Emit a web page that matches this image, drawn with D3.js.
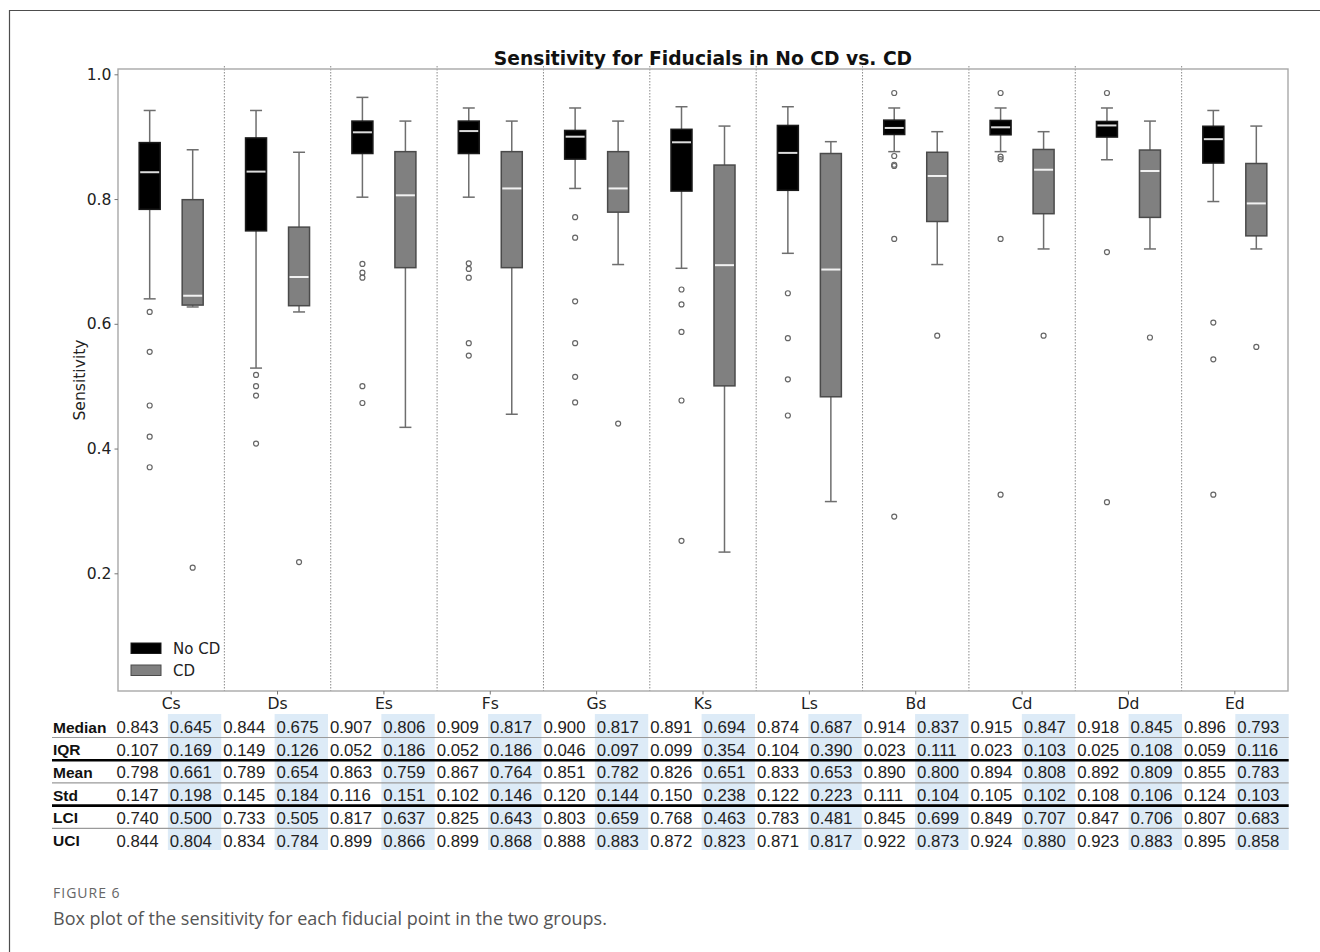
<!DOCTYPE html>
<html>
<head>
<meta charset="utf-8">
<script src="https://cdn.jsdelivr.net/npm/d3@7"></script>
<style>
  html, body { margin: 0; padding: 0; background: #fff; }
  svg { display: block; }
</style>
</head>
<body>
<svg id="fig" width="1320" height="952"></svg>
<script>
// Fiducial points and groups
const categories = ["Cs", "Ds", "Es", "Fs", "Gs", "Ks", "Ls", "Bd", "Cd", "Dd", "Ed"];
const groups = ["No CD", "CD"];

// Summary statistics (table rows)
const medianNoCD = [0.843, 0.844, 0.907, 0.909, 0.900, 0.891, 0.874, 0.914, 0.915, 0.918, 0.896];
const medianCD   = [0.645, 0.675, 0.806, 0.817, 0.817, 0.694, 0.687, 0.837, 0.847, 0.845, 0.793];
const iqrNoCD    = [0.107, 0.149, 0.052, 0.052, 0.046, 0.099, 0.104, 0.023, 0.023, 0.025, 0.059];
const iqrCD      = [0.169, 0.126, 0.186, 0.186, 0.097, 0.354, 0.390, 0.111, 0.103, 0.108, 0.116];
const meanNoCD   = [0.798, 0.789, 0.863, 0.867, 0.851, 0.826, 0.833, 0.890, 0.894, 0.892, 0.855];
const meanCD     = [0.661, 0.654, 0.759, 0.764, 0.782, 0.651, 0.653, 0.800, 0.808, 0.809, 0.783];
const stdNoCD    = [0.147, 0.145, 0.116, 0.102, 0.120, 0.150, 0.122, 0.111, 0.105, 0.108, 0.124];
const stdCD      = [0.198, 0.184, 0.151, 0.146, 0.144, 0.238, 0.223, 0.104, 0.102, 0.106, 0.103];
const lciNoCD    = [0.740, 0.733, 0.817, 0.825, 0.803, 0.768, 0.783, 0.845, 0.849, 0.847, 0.807];
const lciCD      = [0.500, 0.505, 0.637, 0.643, 0.659, 0.463, 0.481, 0.699, 0.707, 0.706, 0.683];
const uciNoCD    = [0.844, 0.834, 0.899, 0.899, 0.888, 0.872, 0.871, 0.922, 0.924, 0.923, 0.895];
const uciCD      = [0.804, 0.784, 0.866, 0.868, 0.883, 0.823, 0.817, 0.873, 0.880, 0.883, 0.858];

// Box-plot geometry values: lower quartile, whisker ends, outliers
const q1NoCD     = [0.7835, 0.749, 0.873, 0.873, 0.864, 0.8128, 0.814, 0.9035, 0.903, 0.8994, 0.8577];
const q1CD       = [0.630, 0.629, 0.690, 0.690, 0.779, 0.5005, 0.483, 0.764, 0.7765, 0.7706, 0.741];
const whiskLoNoCD = [0.640, 0.529, 0.803, 0.803, 0.817, 0.689, 0.713, 0.876, 0.876, 0.863, 0.796];
const whiskHiNoCD = [0.942, 0.942, 0.963, 0.946, 0.946, 0.948, 0.948, 0.946, 0.946, 0.946, 0.942];
const whiskLoCD   = [0.627, 0.619, 0.434, 0.455, 0.695, 0.234, 0.315, 0.695, 0.720, 0.720, 0.720];
const whiskHiCD   = [0.879, 0.875, 0.925, 0.925, 0.925, 0.917, 0.892, 0.908, 0.908, 0.925, 0.917];
const outliersNoCD = [
  [0.619, 0.555, 0.469, 0.419, 0.370],
  [0.518, 0.500, 0.485, 0.408],
  [0.696, 0.682, 0.674, 0.500, 0.473],
  [0.697, 0.688, 0.674, 0.569, 0.549],
  [0.771, 0.738, 0.636, 0.569, 0.515, 0.474],
  [0.655, 0.631, 0.587, 0.477, 0.252],
  [0.649, 0.577, 0.511, 0.453],
  [0.970, 0.869, 0.855, 0.853, 0.736, 0.291],
  [0.970, 0.868, 0.864, 0.736, 0.326],
  [0.970, 0.715, 0.314],
  [0.602, 0.543, 0.326]
];
const outliersCD = [
  [0.209], [0.218], [], [], [0.440], [], [], [0.581], [0.581], [0.578], [0.563]
];

const yTicks = [0.2, 0.4, 0.6, 0.8, 1.0];
const tableRows = ["Median", "IQR", "Mean", "Std", "LCI", "UCI"];
const titleText = "Sensitivity for Fiducials in No CD vs. CD";
const yLabel = "Sensitivity";
const figLabel = "FIGURE 6";
const captionText = "Box plot of the sensitivity for each fiducial point in the two groups.";

// ---- Assemble per-box records ----
const boxes = [];
categories.forEach((c, i) => {
  boxes.push({cat: c, group: "No CD", med: medianNoCD[i], q1: q1NoCD[i], q3: q1NoCD[i] + iqrNoCD[i],
              lo: whiskLoNoCD[i], hi: whiskHiNoCD[i], out: outliersNoCD[i]});
  boxes.push({cat: c, group: "CD", med: medianCD[i], q1: q1CD[i], q3: q1CD[i] + iqrCD[i],
              lo: whiskLoCD[i], hi: whiskHiCD[i], out: outliersCD[i]});
});

const styles = {
  "No CD": {fill: "#000000", stroke: "#1a1a1a", median: "#dcdcdc"},
  "CD":    {fill: "#808080", stroke: "#4a4a4a", median: "#f2f2f2"}
};

const svg = d3.select("#fig");
const axisFont = "DejaVu Sans";
const axisSize = 15.6;

// Figure frame
svg.append("path")
  .attr("d", "M9.5,952 V10.5 H1320")
  .attr("fill", "none").attr("stroke", "#4d4d4d").attr("stroke-width", 1.2);

// ---- Plot area ----
const plot = {left: 118, right: 1288, top: 69, bottom: 691};
const x = d3.scaleBand().domain(categories).range([plot.left, plot.right]).paddingInner(0).paddingOuter(0);
const sub = d3.scalePoint().domain(groups).range([-21.5, 21.5]);
const y = d3.scaleLinear().domain([0.0113, 1.0085]).range([plot.bottom, plot.top]);
const boxW = 21, capW = 12;
const cx = d => x(d.cat) + x.bandwidth() / 2 + sub(d.group);

// Category separators (dotted)
svg.append("g").selectAll("line")
  .data(categories.slice(1))
  .join("line")
  .attr("x1", d => x(d)).attr("x2", d => x(d))
  .attr("y1", plot.top - 3).attr("y2", plot.bottom)
  .attr("stroke", "#8a8a8a").attr("stroke-width", 1)
  .attr("stroke-dasharray", "1.5,1.5");

// Axes frame
svg.append("rect")
  .attr("x", plot.left).attr("y", plot.top)
  .attr("width", plot.right - plot.left).attr("height", plot.bottom - plot.top)
  .attr("fill", "none").attr("stroke", "#a8a8a8").attr("stroke-width", 1.4);

// Y axis
const yAxis = svg.append("g")
  .attr("transform", `translate(${plot.left},0)`)
  .call(d3.axisLeft(y).tickValues(yTicks).tickFormat(d3.format(".1f")).tickSize(3.5).tickPadding(3));
yAxis.select(".domain").remove();
yAxis.selectAll(".tick line").attr("stroke", "#777");
yAxis.selectAll(".tick text")
  .attr("font-family", axisFont).attr("font-size", axisSize).attr("fill", "#222");

// X axis
const xAxis = svg.append("g")
  .attr("transform", `translate(0,${plot.bottom})`)
  .call(d3.axisBottom(x).tickSize(3.5).tickPadding(3));
xAxis.select(".domain").remove();
xAxis.selectAll(".tick line").attr("stroke", "#777");
xAxis.selectAll(".tick text")
  .attr("font-family", axisFont).attr("font-size", axisSize).attr("fill", "#222");

// Y label
svg.append("text")
  .attr("transform", `translate(85,380) rotate(-90)`)
  .attr("text-anchor", "middle")
  .attr("font-family", axisFont).attr("font-size", axisSize).attr("fill", "#222")
  .text(yLabel);

// Title
svg.append("text")
  .attr("x", (plot.left + plot.right) / 2).attr("y", 65)
  .attr("text-anchor", "middle")
  .attr("font-family", axisFont).attr("font-weight", "bold").attr("font-size", 18.7).attr("fill", "#111")
  .text(titleText);

// ---- Boxes ----
const bg = svg.append("g").selectAll("g").data(boxes).join("g");

// whiskers
bg.append("line")
  .attr("x1", cx).attr("x2", cx)
  .attr("y1", d => y(d.hi)).attr("y2", d => y(d.q3))
  .attr("stroke", "#6e6e6e").attr("stroke-width", 1.5);
bg.append("line")
  .attr("x1", cx).attr("x2", cx)
  .attr("y1", d => y(d.q1)).attr("y2", d => y(d.lo))
  .attr("stroke", "#6e6e6e").attr("stroke-width", 1.5);
// caps
bg.append("line")
  .attr("x1", d => cx(d) - capW / 2).attr("x2", d => cx(d) + capW / 2)
  .attr("y1", d => y(d.hi)).attr("y2", d => y(d.hi))
  .attr("stroke", "#6e6e6e").attr("stroke-width", 1.5);
bg.append("line")
  .attr("x1", d => cx(d) - capW / 2).attr("x2", d => cx(d) + capW / 2)
  .attr("y1", d => y(d.lo)).attr("y2", d => y(d.lo))
  .attr("stroke", "#6e6e6e").attr("stroke-width", 1.5);
// box
bg.append("rect")
  .attr("x", d => cx(d) - boxW / 2).attr("width", boxW)
  .attr("y", d => y(d.q3)).attr("height", d => y(d.q1) - y(d.q3))
  .attr("fill", d => styles[d.group].fill)
  .attr("stroke", d => styles[d.group].stroke).attr("stroke-width", 1.5);
// median
bg.append("line")
  .attr("x1", d => cx(d) - boxW / 2 + 1).attr("x2", d => cx(d) + boxW / 2 - 1)
  .attr("y1", d => y(d.med)).attr("y2", d => y(d.med))
  .attr("stroke", d => styles[d.group].median).attr("stroke-width", 2);
// outliers
bg.selectAll("circle")
  .data(d => d.out.map(v => ({v, d})))
  .join("circle")
  .attr("cx", o => cx(o.d)).attr("cy", o => y(o.v))
  .attr("r", 2.5)
  .attr("fill", "none").attr("stroke", "#666").attr("stroke-width", 1.2);

// ---- Legend ----
const legend = svg.append("g").attr("transform", "translate(131,643)");
groups.forEach((g, i) => {
  const row = legend.append("g").attr("transform", `translate(0,${i * 22})`);
  row.append("rect")
    .attr("width", 30).attr("height", 10.5)
    .attr("fill", styles[g].fill).attr("stroke", styles[g].stroke).attr("stroke-width", 1);
  row.append("text")
    .attr("x", 42).attr("y", 5.5).attr("dy", "0.36em")
    .attr("font-family", axisFont).attr("font-size", 15).attr("fill", "#222")
    .text(g);
});

// ---- Statistics table ----
const rowValues = [
  [medianNoCD, medianCD], [iqrNoCD, iqrCD], [meanNoCD, meanCD],
  [stdNoCD, stdCD], [lciNoCD, lciCD], [uciNoCD, uciCD]
];
const cellKeys = [];
categories.forEach(c => groups.forEach(g => cellKeys.push(c + "|" + g)));
const tx = d3.scaleBand().domain(cellKeys).range([114.5, 1288.7]);
const rowY = d3.scalePoint().domain(tableRows).range([727, 840.5]);
const table = svg.append("g");

// shaded CD columns
table.selectAll("rect.band")
  .data(cellKeys.filter(k => k.endsWith("|CD")))
  .join("rect").attr("class", "band")
  .attr("x", k => tx(k)).attr("width", tx.bandwidth())
  .attr("y", 714).attr("height", 136)
  .attr("fill", "#ddebf7");

// row separators: thick after IQR and Std, thin otherwise
tableRows.slice(0, -1).forEach(r => {
  const thick = (r === "IQR" || r === "Std");
  table.append("line")
    .attr("x1", 52).attr("x2", 1288.7)
    .attr("y1", rowY(r) + 10.5).attr("y2", rowY(r) + 10.5)
    .attr("stroke", thick ? "#000" : "#9a9a9a")
    .attr("stroke-width", thick ? 2.6 : 1.2);
});

tableRows.forEach((r, ri) => {
  table.append("text")
    .attr("x", 53).attr("y", rowY(r)).attr("dy", "0.36em")
    .attr("font-family", "Liberation Sans, Arial, sans-serif").attr("font-weight", "bold")
    .attr("font-size", 15.5).attr("fill", "#111")
    .text(r);
  const [a, b] = rowValues[ri];
  categories.forEach((c, ci) => {
    [[a, "No CD"], [b, "CD"]].forEach(([arr, g]) => {
      table.append("text")
        .attr("x", tx(c + "|" + g) + 2).attr("y", rowY(r)).attr("dy", "0.36em")
        .attr("font-family", "Liberation Sans, Arial, sans-serif")
        .attr("font-size", 16.8).attr("fill", "#222")
        .text(d3.format(".3f")(arr[ci]));
    });
  });
});

// ---- Caption ----
svg.append("text")
  .attr("x", 53).attr("y", 898)
  .attr("font-family", "Open Sans, sans-serif").attr("font-size", 14)
  .attr("letter-spacing", 1).attr("fill", "#666")
  .text(figLabel);
svg.append("text")
  .attr("x", 53).attr("y", 925)
  .attr("font-family", "Open Sans, sans-serif").attr("font-size", 18).attr("fill", "#555")
  .text(captionText);
</script>
</body>
</html>
